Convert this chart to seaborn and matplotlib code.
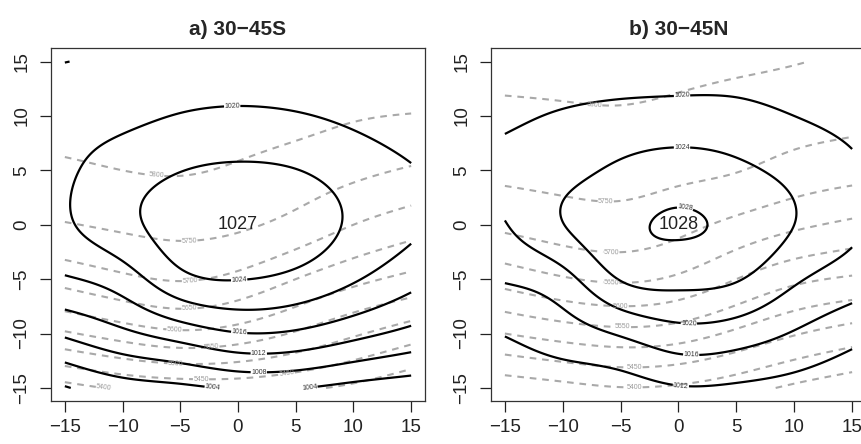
import numpy as np
import matplotlib
matplotlib.use("Agg")
import matplotlib.pyplot as plt
import seaborn as sns

# -------------------------------
# Composite fields (5-degree grid, rows go south -> north)
# -------------------------------
grid_x = [-15, -10, -5, 0, 5, 10, 15]
grid_y = [-15, -10, -5, 0, 5, 10, 15]

# sea level pressure (hPa), 30-45S
slp_south = [
    [999.7, 1002.2, 1003.2, 1004.4, 1004.2, 1002.8, 1001.8],
    [1008.6, 1011.2, 1013.7, 1015.8, 1015.4, 1013.2, 1010.9],
    [1015.6, 1018.0, 1022.9, 1024.1, 1023.0, 1020.4, 1017.3],
    [1019.4, 1022.8, 1025.8, 1027.0, 1026.1, 1023.4, 1020.8],
    [1019.3, 1022.0, 1023.9, 1024.6, 1024.1, 1022.3, 1020.3],
    [1018.3, 1019.0, 1020.2, 1020.7, 1020.3, 1019.2, 1017.8],
    [1015.95, 1016.5, 1016.8, 1017.0, 1017.0, 1016.8, 1016.5],
]
# 500 hPa height (m), 30-45S
hgt_south = [
    [5382, 5407, 5419, 5421, 5409, 5390, 5362],
    [5544, 5572, 5591, 5578, 5545, 5507, 5473],
    [5667, 5690, 5703, 5687, 5650, 5614, 5586],
    [5747, 5758, 5765, 5758, 5734, 5700, 5673],
    [5792, 5800, 5803, 5795, 5780, 5762, 5745],
    [5820, 5822, 5825, 5822, 5815, 5804, 5798],
    [5838, 5840, 5842, 5841, 5838, 5836, 5838],
]

# sea level pressure (hPa), 30-45N
slp_north = [
    [1008.8, 1009.5, 1010.2, 1011.7, 1011.4, 1010.5, 1009.0],
    [1012.2, 1014.1, 1016.4, 1018.6, 1018.0, 1015.7, 1013.3],
    [1016.3, 1018.6, 1024.2, 1025.2, 1024.3, 1020.6, 1018.0],
    [1019.8, 1023.9, 1027.1, 1028.3, 1027.1, 1024.0, 1020.8],
    [1021.0, 1022.7, 1024.7, 1025.8, 1024.8, 1022.9, 1020.6],
    [1019.2, 1020.4, 1021.2, 1021.5, 1021.3, 1020.0, 1018.8],
    [1016.6, 1016.6, 1017.2, 1017.6, 1017.4, 1016.8, 1016.6],
]
# 500 hPa height (m), 30-45N
hgt_north = [
    [5369, 5384, 5398, 5392, 5370, 5341, 5319],
    [5500, 5521, 5534, 5524, 5490, 5454, 5428],
    [5620, 5645, 5657, 5641, 5600, 5562, 5543],
    [5711, 5725, 5731, 5715, 5687, 5660, 5640],
    [5761, 5766, 5768, 5761, 5752, 5732, 5719],
    [5790, 5793, 5795, 5789, 5781, 5772, 5764],
    [5817, 5819, 5820, 5815, 5809, 5802, 5793],
]

slp_levels = [1000, 1004, 1008, 1012, 1016, 1020, 1024, 1028]
hgt_levels = [5350, 5400, 5450, 5500, 5550, 5600, 5650, 5700, 5750, 5800]
titles = ["a) 30\u221245S", "b) 30\u221245N"]
ticks = [-15, -10, -5, 0, 5, 10, 15]

# -------------------------------
# Style
# -------------------------------
sns.set_style("ticks")
plt.rcParams["font.family"] = ["Liberation Sans", "DejaVu Sans"]
plt.rcParams["lines.dashed_pattern"] = [3.2, 2.8]


def spline_weights(knots, fine):
    # natural cubic spline through the knots, as a (fine x knots) weight matrix
    knots = np.asarray(knots, float)
    n = len(knots)
    h = knots[1] - knots[0]
    A = np.zeros((n, n))
    B = np.zeros((n, n))
    A[0, 0] = A[-1, -1] = 1.0
    for i in range(1, n - 1):
        A[i, i - 1], A[i, i], A[i, i + 1] = h / 6, 2 * h / 3, h / 6
        B[i, i - 1], B[i, i], B[i, i + 1] = 1 / h, -2 / h, 1 / h
    M = np.linalg.solve(A, B)
    W = np.zeros((len(fine), n))
    for k, t in enumerate(fine):
        i = min(int((t - knots[0]) // h), n - 2)
        a = (knots[i + 1] - t) / h
        b = 1 - a
        W[k, i] += a
        W[k, i + 1] += b
        W[k] += ((a ** 3 - a) * M[i] + (b ** 3 - b) * M[i + 1]) * h * h / 6
    return W


fine_x = np.linspace(min(grid_x), max(grid_x), 241)
fine_y = np.linspace(min(grid_y), max(grid_y), 241)
Wx = spline_weights(grid_x, fine_x)
Wy = spline_weights(grid_y, fine_y)
FX, FY = np.meshgrid(fine_x, fine_y)


def draw_panel(ax, slp, hgt, slp_lab, hgt_lab, title):
    slp_f = Wy @ np.array(slp, float) @ Wx.T
    hgt_f = Wy @ np.array(hgt, float) @ Wx.T

    cs_h = ax.contour(FX, FY, hgt_f, levels=hgt_levels, colors="#a9a9a9",
                      linewidths=1.5, linestyles="dashed")
    ax.clabel(cs_h, manual=hgt_lab, inline=True, fontsize=5, fmt="%d",
              inline_spacing=1, colors="#9a9a9a")
    cs_p = ax.contour(FX, FY, slp_f, levels=slp_levels, colors="black",
                      linewidths=1.6)
    ax.clabel(cs_p, manual=slp_lab, inline=True, fontsize=5, fmt="%d",
              inline_spacing=1, colors="#333333")

    # central pressure written at the grid maximum
    arr = np.array(slp)
    j, i = np.unravel_index(np.argmax(arr), arr.shape)
    ax.text(grid_x[i], grid_y[j], f"{arr.max():.0f}", ha="center", va="center",
            fontsize=13, color="#222222")

    ax.set_xlim(-16.2, 16.2)
    ax.set_ylim(-16.2, 16.2)
    ax.set_xticks(ticks)
    ax.set_yticks(ticks)
    ax.set_xticklabels([str(t).replace("-", "\u2212") for t in ticks])
    ax.set_yticklabels([str(t).replace("-", "\u2212") for t in ticks],
                       rotation=90, va="center")
    ax.tick_params(axis="both", direction="out", length=8, width=0.9,
                   labelsize=13.5, colors="#222222")
    ax.tick_params(axis="x", pad=5)
    ax.tick_params(axis="y", pad=7)
    for sp in ax.spines.values():
        sp.set_visible(True)
        sp.set_color("#333333")
        sp.set_linewidth(0.9)
    ax.set_title(title, fontsize=15, fontweight="bold", pad=10)


fig = plt.figure(figsize=(8.62, 4.44), dpi=100)
ax1 = fig.add_axes([51 / 862, 43 / 444, 374 / 862, 352.5 / 444])
ax2 = fig.add_axes([491 / 862, 43 / 444, 375 / 862, 352.5 / 444])

slp_lab_s = [(-0.5, 10.8), (0.1, -5.1), (0.1, -9.9), (1.8, -11.7), (1.8, -13.5),
             (-2.2, -15.0), (6.2, -15.0)]
hgt_lab_s = [(-7.1, 4.3), (-4.2, -1.8), (-4.1, -5.3), (-4.2, -7.8), (-5.5, -9.7),
             (-2.3, -11.3), (-5.4, -12.5), (-3.2, -14.0), (-10.8, -14.9), (4.4, -15.0)]
slp_lab_n = [(0.3, 12.0), (0.3, 6.9), (0.5, 1.0), (0.9, -9.0), (1.1, -11.8), (0.2, -14.8)]
hgt_lab_n = [(-7.3, 10.8), (-6.3, 1.5), (-5.8, -2.6), (-5.8, -5.4), (-5.0, -7.5),
             (-4.8, -9.4), (-3.8, -13.0), (-3.8, -14.9)]

draw_panel(ax1, slp_south, hgt_south, slp_lab_s, hgt_lab_s, titles[0])
draw_panel(ax2, slp_north, hgt_north, slp_lab_n, hgt_lab_n, titles[1])

fig.savefig("out.png", dpi=100)
